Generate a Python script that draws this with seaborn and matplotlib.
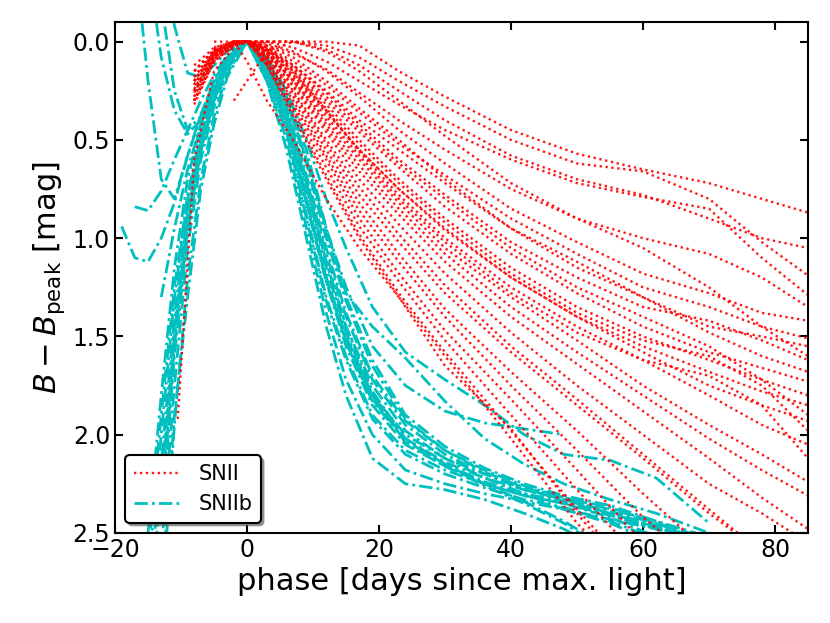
import numpy as np
import pandas as pd
import matplotlib.pyplot as plt
import seaborn as sns

nan = np.nan

# SNII light curves, B - B_peak [mag] read on a common phase grid
snii_phase = [-10.5, -8, -5, -2, 0, 3, 7, 12, 17, 23, 30, 40, 50, 60, 70, 78, 85]
snii_curves = [
    [nan, nan, 0.03, 0, 0, 0, 0, 0, 0.02, 0.15, 0.28, 0.45, 0.57, 0.65, 0.72, 0.80, 0.87],
    [nan, 0.15, 0.05, 0.01, 0, 0, 0, 0.02, 0.08, 0.20, 0.33, 0.50, 0.62, 0.66, 0.80, 1.02, 1.19],
    [nan, 0.20, 0.06, 0, 0, 0, 0.03, 0.10, 0.20, 0.32, 0.45, 0.60, 0.72, 0.79, 0.85, 1.10, 1.29],
    [nan, 0.25, 0.08, 0.01, 0, 0.02, 0.06, 0.14, 0.26, 0.40, 0.55, 0.75, 0.90, 1.00, 1.08, 1.20, 1.35],
    [nan, 0.12, 0.03, 0, 0, 0.01, 0.05, 0.15, 0.28, 0.45, 0.62, 0.85, 1.02, 1.18, 1.28, 1.38, 1.42],
    [nan, 0.30, 0.10, 0.02, 0, 0.03, 0.10, 0.22, 0.36, 0.52, 0.68, 0.90, 1.08, 1.25, 1.35, 1.45, 1.51],
    [nan, 0.20, 0.06, 0.01, 0, 0.02, 0.08, 0.20, 0.34, 0.50, 0.70, 0.95, 1.15, 1.30, 1.45, 1.50, 1.55],
    [nan, 0.28, 0.08, 0.01, 0, 0.03, 0.12, 0.26, 0.42, 0.60, 0.78, 1.02, 1.20, 1.35, 1.42, 1.52, 1.62],
    [nan, 0.18, 0.05, 0, 0, 0.04, 0.14, 0.30, 0.46, 0.64, 0.84, 1.08, 1.28, 1.45, 1.58, 1.66, 1.73],
    [nan, 0.30, 0.09, 0.01, 0, 0.04, 0.15, 0.32, 0.50, 0.70, 0.90, 1.15, 1.35, 1.50, 1.62, 1.72, 1.80],
    [nan, nan, 0.05, 0, 0, 0.05, 0.18, 0.36, 0.55, 0.75, 0.96, 1.20, 1.40, 1.58, 1.75, 1.85, 1.93],
    [nan, 0.22, 0.07, 0.01, 0, 0.05, 0.17, 0.35, 0.56, 0.78, 1.00, 1.25, 1.45, 1.62, 1.80, 1.95, 2.05],
    [nan, 0.26, 0.08, 0.01, 0, 0.06, 0.20, 0.40, 0.60, 0.82, 1.05, 1.30, 1.52, 1.75, 1.95, 2.10, 2.24],
    [nan, 0.20, 0.06, 0, 0, 0.06, 0.20, 0.42, 0.63, 0.85, 1.08, 1.35, 1.58, 1.80, 2.02, 2.18, 2.31],
    [nan, 0.15, 0.04, 0, 0, 0.07, 0.22, 0.44, 0.66, 0.88, 1.12, 1.40, 1.64, 1.88, 2.12, 2.32, 2.48],
    [nan, 0.24, 0.07, 0.01, 0, 0.07, 0.23, 0.46, 0.70, 0.93, 1.18, 1.48, 1.75, 2.00, 2.25, 2.40, 2.55],
    [nan, 0.30, 0.10, 0.02, 0, 0.08, 0.25, 0.50, 0.74, 0.98, 1.24, 1.55, 1.82, 2.10, 2.38, 2.60, nan],
    [nan, 0.20, 0.06, 0.01, 0, 0.08, 0.26, 0.52, 0.78, 1.02, 1.28, 1.58, 1.85, 2.12, 2.40, 2.60, nan],
    [nan, 0.28, 0.08, 0.01, 0, 0.09, 0.28, 0.55, 0.82, 1.08, 1.36, 1.68, 1.98, 2.30, 2.60, nan, nan],
    [nan, 0.22, 0.06, 0, 0, 0.10, 0.30, 0.58, 0.86, 1.12, 1.40, 1.75, 2.08, 2.42, 2.70, nan, nan],
    [nan, 0.25, 0.07, 0.01, 0, 0.10, 0.32, 0.60, 0.90, 1.18, 1.47, 1.82, 2.18, 2.55, nan, nan, nan],
    [nan, 0.30, 0.09, 0.02, 0, 0.11, 0.34, 0.64, 0.94, 1.22, 1.52, 1.90, 2.28, 2.65, nan, nan, nan],
    [nan, 0.20, 0.05, 0, 0, 0.12, 0.36, 0.68, 0.98, 1.28, 1.58, 1.98, 2.38, 2.75, nan, nan, nan],
    [nan, 0.18, 0.05, 0, 0, 0.12, 0.38, 0.70, 1.00, 1.30, 1.60, 2.02, 2.45, 2.80, nan, nan, nan],
    [nan, nan, 0.05, 0, 0.10, 0.30, 0.50, 0.80, 1.05, 1.30, 1.65, 1.97, 2.40, 2.80, nan, nan, nan],
    [1.92, 0.60, 0.15, 0.03, 0, 0.03, 0.15, 0.35, 0.55, 0.75, 0.95, 1.20, 1.40, 1.55, 1.68, 1.78, 1.85],
    [nan, nan, nan, 0.30, 0.20, 0.05, 0, 0.05, 0.15, 0.30, 0.48, 0.72, 0.90, 1.05, 1.25, 1.45, 1.60],
    [nan, nan, 0, 0, 0, 0, 0, 0.04, 0.12, 0.25, 0.40, 0.58, 0.70, 0.78, 0.90, 1.00, 1.05],
    [nan, 0.32, 0.10, 0.02, 0, 0.04, 0.12, 0.25, 0.40, 0.55, 0.72, 0.95, 1.12, 1.30, 1.48, 1.60, 1.68],
    [nan, 0.15, 0.04, 0, 0, 0.05, 0.16, 0.34, 0.52, 0.72, 0.92, 1.18, 1.38, 1.52, 1.60, 1.75, 1.98],
    [nan, 0.25, 0.07, 0.01, 0, 0.06, 0.19, 0.38, 0.58, 0.80, 1.02, 1.28, 1.48, 1.62, 1.70, 1.85, 2.12],
    [nan, 0.22, 0.06, 0, 0, 0.04, 0.13, 0.28, 0.44, 0.62, 0.80, 1.05, 1.25, 1.40, 1.55, 1.72, 1.90],
]

# SNIIb light curves
sniib_phase = [-19, -17, -15, -13, -11, -9, -7, -5, -3, 0, 3, 6, 9, 12, 15, 19, 24, 30, 36, 42, 48, 55, 62, 70]
sniib_curves = [
    [nan, nan, nan, -0.50, -0.08, 0.16, 0.18, 0.12, 0.05, 0, 0.15, 0.40, 0.80, 1.20, 1.50, 1.80, 2.00, 2.12, 2.20, 2.27, 2.32, 2.38, 2.44, 2.52],
    [nan, nan, nan, -0.20, 0.25, 0.45, 0.38, 0.22, 0.08, 0, 0.18, 0.45, 0.88, 1.30, 1.60, 1.90, 2.08, 2.18, 2.25, 2.31, 2.35, 2.42, 2.52, nan],
    [nan, nan, -0.40, 0.08, 0.35, 0.47, 0.40, 0.25, 0.10, 0, 0.12, 0.35, 0.70, 1.08, 1.40, 1.72, 1.95, 2.10, 2.20, 2.28, 2.33, 2.40, 2.47, 2.55],
    [nan, -0.45, 0.20, 0.70, 0.80, 0.58, 0.37, 0.20, 0.08, 0, 0.10, 0.30, 0.62, 1.00, 1.32, 1.65, 1.92, 2.08, 2.18, 2.26, 2.32, 2.37, 2.45, 2.55],
    [nan, 0.84, 0.86, 0.76, 0.60, 0.45, 0.30, 0.17, 0.07, 0, 0.14, 0.38, 0.75, 1.12, 1.45, 1.78, 2.02, 2.15, 2.24, 2.30, 2.34, 2.40, 2.46, 2.55],
    [0.94, 1.10, 1.12, 1.00, 0.82, 0.58, 0.38, 0.20, 0.08, 0, 0.08, 0.25, 0.50, 0.80, 1.05, 1.35, 1.58, 1.72, 1.85, 2.00, 2.10, 2.13, 2.22, 2.45],
    [nan, nan, nan, 1.30, 0.95, 0.65, 0.42, 0.24, 0.10, 0, 0.08, 0.28, 0.55, 0.95, 1.28, 1.45, 1.61, 1.83, 2.02, 2.15, 2.25, 2.33, 2.40, 2.50],
    [nan, nan, 2.70, 2.00, 1.30, 0.80, 0.48, 0.26, 0.10, 0, 0.16, 0.42, 0.82, 1.22, 1.52, 1.82, 2.02, 2.14, 2.22, 2.28, 2.33, 2.39, 2.45, 2.53],
    [nan, nan, 2.50, 1.80, 1.15, 0.70, 0.42, 0.22, 0.08, 0, 0.20, 0.55, 1.00, 1.45, 1.80, 2.12, 2.25, 2.28, 2.33, 2.40, 2.48, 2.60, nan, nan],
    [nan, nan, 3.00, 2.25, 1.45, 0.88, 0.52, 0.28, 0.12, 0, 0.20, 0.50, 0.95, 1.38, 1.72, 2.00, 2.18, 2.25, 2.30, 2.34, 2.38, 2.45, 2.55, nan],
    [nan, nan, nan, 2.60, 1.75, 1.05, 0.60, 0.33, 0.14, 0, 0.10, 0.30, 0.60, 0.95, 1.25, 1.55, 1.75, 1.88, 1.94, 1.97, 2.00, nan, nan, nan],
    [nan, nan, nan, 2.45, 1.60, 0.98, 0.56, 0.30, 0.12, 0, 0.16, 0.42, 0.82, 1.22, 1.55, 1.85, 2.05, 2.16, 2.26, 2.35, 2.45, 2.60, nan, nan],
    [nan, nan, nan, 2.90, 1.95, 1.20, 0.70, 0.38, 0.16, 0, 0.12, 0.36, 0.72, 1.12, 1.45, 1.75, 1.98, 2.12, 2.22, 2.30, 2.38, 2.43, 2.48, 2.55],
    [nan, nan, 2.85, 2.15, 1.40, 0.85, 0.50, 0.27, 0.10, 0, 0.13, 0.37, 0.74, 1.15, 1.48, 1.80, 2.04, 2.16, 2.25, 2.31, 2.35, 2.41, 2.47, 2.55],
    [nan, nan, nan, 2.30, 1.50, 0.90, 0.52, 0.28, 0.11, 0, 0.11, 0.33, 0.68, 1.05, 1.38, 1.70, 1.93, 2.08, 2.19, 2.27, 2.34, 2.41, 2.48, 2.56],
    [nan, nan, nan, 2.80, 1.90, 1.30, 0.75, 0.42, 0.18, 0, 0.17, 0.46, 0.90, 1.32, 1.62, 1.92, 2.10, 2.20, 2.27, 2.33, 2.37, 2.44, 2.53, nan],
    [nan, nan, 2.60, 1.90, 1.25, 0.78, 0.46, 0.25, 0.10, 0, 0.10, 0.29, 0.60, 0.98, 1.30, 1.62, 1.90, 2.06, 2.17, 2.25, 2.31, 2.36, 2.44, 2.54],
    [nan, nan, nan, 2.40, 1.55, 0.95, 0.55, 0.30, 0.12, 0, 0.15, 0.40, 0.80, 1.20, 1.53, 1.83, 2.03, 2.15, 2.25, 2.34, 2.44, 2.58, nan, nan],
]


def to_long(phase, curves, kind):
    rows = []
    for i, mags in enumerate(curves):
        for p, m in zip(phase, mags):
            if not np.isnan(m):
                rows.append((f"{kind}_{i}", kind, p, m))
    return pd.DataFrame(rows, columns=["sn", "type", "phase", "mag"])


df_ii = to_long(snii_phase, snii_curves, "SNII")
df_iib = to_long(sniib_phase, sniib_curves, "SNIIb")

fig = plt.figure(figsize=(8.3, 6.23), dpi=100)
ax = fig.add_axes([0.1386, 0.1445, 0.8349, 0.8202])

# SNIIb first so the red dots sit on top, as in the original
sns.lineplot(data=df_iib, x="phase", y="mag", units="sn", estimator=None,
             sort=False, color="c", linewidth=2, legend=False, ax=ax)
n_iib = len(ax.lines)
for ln in ax.lines:
    ln.set_dashes((4.8, 1.5, 1, 1.5))

sns.lineplot(data=df_ii, x="phase", y="mag", units="sn", estimator=None,
             sort=False, color="r", linewidth=1.7, alpha=0.9, legend=False, ax=ax)
for ln in ax.lines[n_iib:]:
    ln.set_dashes((1, 1.5))

ax.set_xlim(-20, 85)
ax.set_ylim(2.5, -0.1)
ax.set_xticks([-20, 0, 20, 40, 60, 80])
ax.set_yticks([0.0, 0.5, 1.0, 1.5, 2.0, 2.5])
ax.set_xlabel("phase [days since max. light]", fontsize=22)
ax.set_ylabel(r"$B - B_{\rm peak}$ [mag]", fontsize=22)
ax.tick_params(direction="in", top=True, right=True, length=6, width=1.5,
               labelsize=17)
for sp in ax.spines.values():
    sp.set_linewidth(1.5)

h_ii = ax.lines[n_iib]
h_iib = ax.lines[0]
leg = ax.legend([h_ii, h_iib], ["SNII", "SNIIb"], loc="lower left",
                fontsize=15, shadow=True, fancybox=True, framealpha=1,
                edgecolor="k", handlelength=2.2, handletextpad=0.9)
leg.get_frame().set_linewidth(1.5)

fig.savefig("out.png", dpi=100)
